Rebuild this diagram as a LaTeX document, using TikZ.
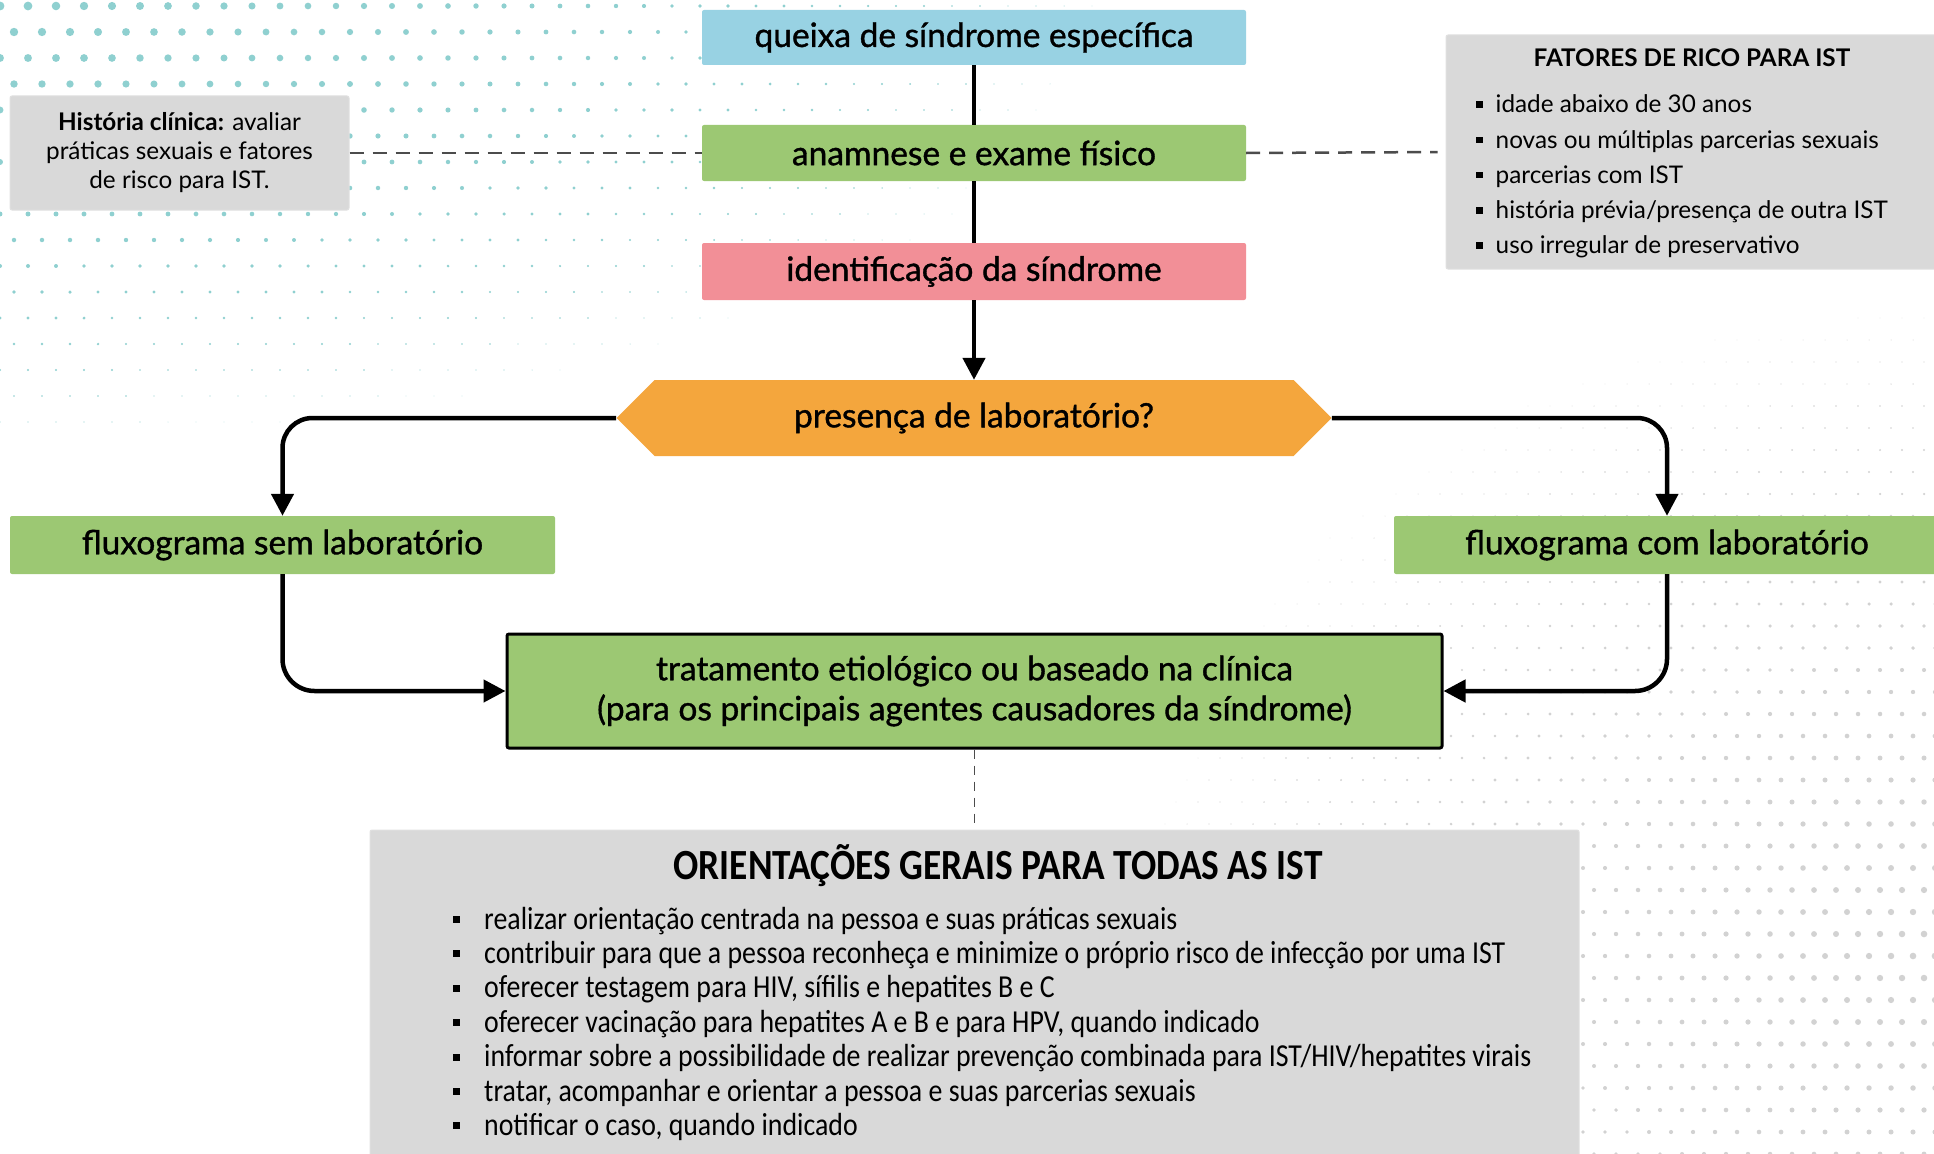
\documentclass[tikz,border=0pt]{standalone}
\usepackage{fontspec}
\setmainfont{Lato}
\newfontfamily\medfont{Lato}[FakeBold=1.1]
\newfontfamily\condfont[FakeStretch=0.87]{Carlito}
\usetikzlibrary{shapes.symbols,arrows.meta}
\definecolor{cBlue}{HTML}{98D2E3}
\definecolor{cGreen}{HTML}{9CC873}
\definecolor{cPink}{HTML}{F28F97}
\definecolor{cOrange}{HTML}{F4A63D}
\definecolor{cGrey}{HTML}{D9D9D9}
\definecolor{cTeal}{HTML}{8FD0D0}
\definecolor{cDot}{HTML}{D2D2D2}
\newcommand\fsmain{\medfont\fontsize{33.5}{40}\selectfont}
\newcommand\fssmall{\fontsize{24.3}{29}\selectfont}
\newcommand\bulA{\rule[5pt]{6.5pt}{6.5pt}\hspace{13pt}}
\newcommand\bulB{\rule[6pt]{7pt}{7pt}\hspace{24pt}}
\tikzset{
  flowbox/.style={rounded corners=2pt, minimum width=544pt, inner sep=0pt, font=\fsmain, text=black},
  conn/.style={line width=4.5pt, black},
  tipA/.style={-{Triangle[length=22pt,width=22pt]}},
  dashl/.style={dash pattern=on 14pt off 9pt, line width=2.5pt, color=black!70},
  greybox/.style={fill=cGrey, rounded corners=2pt, draw=black!12, line width=1pt, inner sep=0pt},
}
\begin{document}
\begin{tikzpicture}[x=1pt,y=-1pt]
\useasboundingbox (0,0) rectangle (1934,1153);
\fill[white] (0,0) rectangle (1934,1153);
% background halftone dots
\foreach \j in {0,...,19}{
  \foreach \i in {0,...,44}{
    \pgfmathsetmacro\px{\i*28+mod(\j,2)*14}
    \pgfmathsetmacro\py{\j*26+6}
    \pgfmathsetmacro\dd{sqrt((\px/1200)^2+(\py/480)^2)}
    \pgfmathsetmacro\rr{4.5*(1-\dd)}
    \ifdim\rr pt>0.4pt \fill[cTeal] (\px,\py) circle (\rr pt); \fi
  }
}
\foreach \j in {0,...,42}{
  \foreach \i in {0,...,44}{
    \pgfmathsetmacro\px{1000+\i*22+mod(\j,2)*11}
    \pgfmathsetmacro\py{230+\j*22}
    \pgfmathsetmacro\dd{sqrt(((1934-\px)/900)^2+((\py-950)/720)^2)}
    \pgfmathsetmacro\rr{3.4*(1-\dd)}
    \ifdim\rr pt>0.4pt \fill[cDot] (\px,\py) circle (\rr pt); \fi
  }
}
% main flow boxes
\node[flowbox, fill=cBlue, minimum height=55pt] (queixa) at (974,37.5) {queixa de síndrome específica};
\node[flowbox, fill=cGreen, minimum height=56pt] (anamnese) at (974,153) {anamnese e exame físico};
\node[flowbox, fill=cPink, minimum height=57pt] (ident) at (974,271.5) {identificação da síndrome};
\node[signal, signal to=east and west, signal pointer angle=90, fill=cOrange, minimum width=715pt, minimum height=76pt, inner sep=0pt, font=\fsmain] (lab) at (974,418) {presença de laboratório?};
\node[flowbox, fill=cGreen, minimum width=545pt, minimum height=58pt] (sem) at (282.5,545) {fluxograma sem laboratório};
\node[flowbox, fill=cGreen, minimum width=546pt, minimum height=58pt] (com) at (1667,545) {fluxograma com laboratório};
\node[flowbox, fill=cGreen, draw=black, line width=3pt, minimum width=935pt, minimum height=114pt, align=center] (trat) at (974.5,691) {tratamento etiológico ou baseado na clínica\\(para os principais agentes causadores da síndrome)};
% side boxes
\node[greybox, minimum width=339pt, minimum height=114pt, align=center, font=\fssmall] (hist) at (179.5,153) {\textbf{História clínica:} avaliar\\práticas sexuais e fatores\\de risco para IST.};
\node[greybox, minimum width=494pt, minimum height=234pt] (fat) at (1693,152) {};
\node[font=\fssmall\bfseries] (fattit) at (1692,58) {FATORES DE RICO PARA IST};
\foreach \t [count=\k] in {idade abaixo de 30 anos, novas ou múltiplas parcerias sexuais, parcerias com IST, história prévia/presença de outra IST, uso irregular de preservativo}{
  \node[anchor=base west, font=\fssmall, inner sep=0pt] (fat\k) at (1476,{113+35.2*(\k-1)}) {\bulA\t};
}
\node[greybox, minimum width=1209pt, minimum height=340pt] (ori) at (974.5,1000) {};
\node[font=\condfont\bfseries\fontsize{43}{48}\selectfont] (orit) at (998,866) {ORIENTAÇÕES GERAIS PARA TODAS AS IST};
\foreach \t [count=\k] in {realizar orientação centrada na pessoa e suas práticas sexuais, contribuir para que a pessoa reconheça e minimize o próprio risco de infecção por uma IST, {oferecer testagem para HIV, sífilis e hepatites B e C}, {oferecer vacinação para hepatites A e B e para HPV, quando indicado}, informar sobre a possibilidade de realizar prevenção combinada para IST/HIV/hepatites virais, {tratar, acompanhar e orientar a pessoa e suas parcerias sexuais}, {notificar o caso, quando indicado}}{
  \node[anchor=base west, font=\condfont\fontsize{32}{36}\selectfont, inner sep=0pt] (ori\k) at (453,{929+34.4*(\k-1)}) {\bulB\t};
}
% connectors
\draw[conn] (queixa) -- (anamnese);
\draw[conn] (anamnese) -- (ident);
\draw[conn, tipA] (ident) -- (lab.north);
\draw[conn, tipA, rounded corners=30pt] (lab.west) -| (sem.north);
\draw[conn, tipA, rounded corners=30pt] (lab.east) -| (com.north);
\draw[conn, tipA, rounded corners=32pt] (sem.south) |- (trat.west);
\draw[conn, tipA, rounded corners=32pt] (com.south) |- (trat.east);
\draw[dashl] (hist.east) -- (anamnese.west);
\draw[dashl, shorten >=8pt] (anamnese.east) -- (fat.west);
\draw[dashl, line width=1.8pt, dash pattern=on 9pt off 7pt] (trat.south) -- (ori.north);
\end{tikzpicture}
\end{document}
